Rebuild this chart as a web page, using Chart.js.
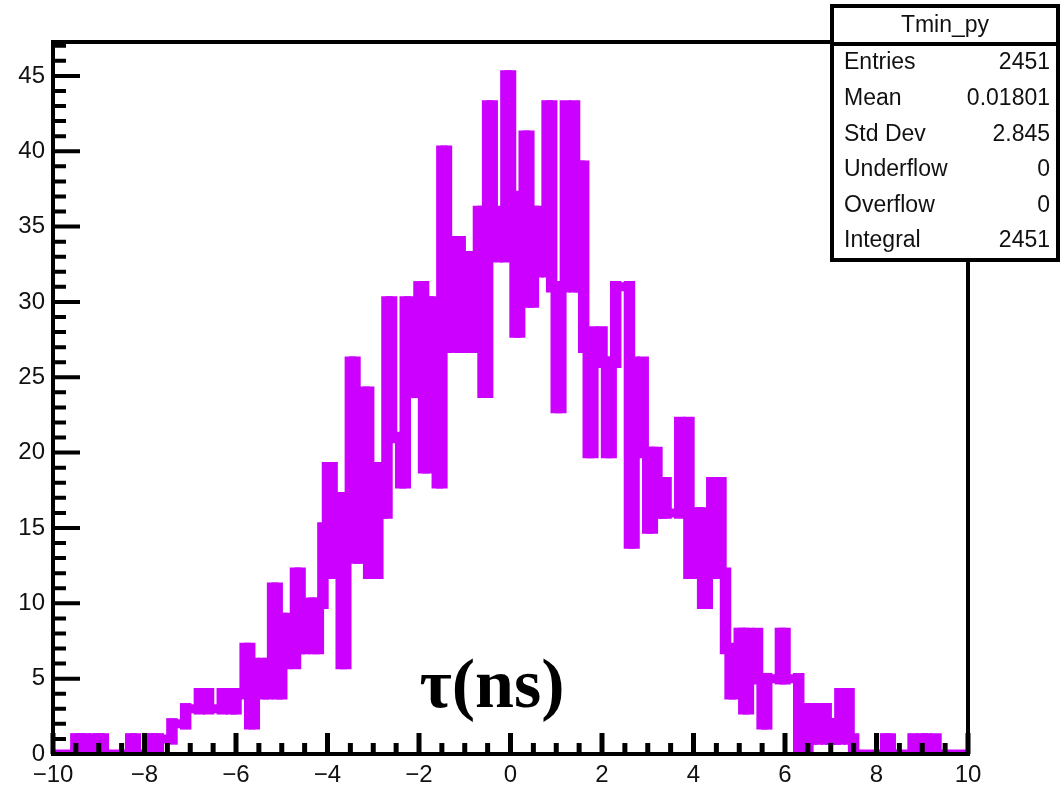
<!DOCTYPE html>
<html>
<head>
<meta charset="utf-8">
<script src="https://cdn.jsdelivr.net/npm/chart.js@4.4.1/dist/chart.umd.min.js"></script>
<style>
html, body { margin: 0; padding: 0; background: #fff; }
#wrap { width: 1062px; height: 787px; }
</style>
</head>
<body>
<div id="wrap"><canvas id="myChart" width="1062" height="787"></canvas></div>
<script>
// histogram Tmin_py : 200 bins from -10 to 10
var binLow = -10;
var binWidth = 0.1;
var counts = [
  0, 0, 0, 0, 0, 1, 0, 1, 1, 0,
  1, 0, 0, 0, 0, 0, 0, 1, 0, 0,
  0, 1, 0, 1, 1, 1, 2, 2, 2, 3,
  3, 3, 4, 4, 3, 3, 3, 4, 4, 3,
  4, 4, 7, 2, 6, 6, 4, 6, 11, 4,
  9, 6, 6, 12, 7, 8, 10, 7, 10, 15,
  19, 12, 17, 6, 17, 26, 13, 16, 24, 12,
  12, 19, 16, 30, 21, 21, 18, 30, 24, 27,
  31, 19, 30, 24, 18, 40, 27, 30, 34, 27,
  27, 33, 27, 36, 24, 43, 36, 33, 33, 45,
  37, 28, 33, 41, 30, 36, 32, 32, 43, 31,
  23, 31, 43, 43, 31, 39, 27, 20, 28, 28,
  26, 20, 26, 31, 31, 31, 14, 26, 26, 20,
  15, 20, 16, 18, 16, 16, 16, 22, 22, 12,
  14, 16, 10, 12, 18, 18, 12, 7, 4, 6,
  8, 3, 8, 8, 5, 2, 5, 5, 5, 8,
  5, 5, 5, 0, 0, 3, 1, 3, 3, 1,
  2, 1, 4, 4, 1, 0, 0, 0, 0, 0,
  0, 0, 1, 0, 0, 0, 0, 0, 1, 1,
  0, 1, 1, 0, 0, 0, 0, 0, 0, 0
];
var xTicks = [-10, -8, -6, -4, -2, 0, 2, 4, 6, 8, 10];
var yTicks = [0, 5, 10, 15, 20, 25, 30, 35, 40, 45];
var yMax = 47.25;
var statsTitle = 'Tmin_py';
var statsNames = ['Entries', 'Mean', 'Std Dev', 'Underflow', 'Overflow', 'Integral'];
var statsValues = ['2451', '0.01801', '2.845', '0', '0', '2451'];
var axisLabel = '\u03c4(ns)';

var lineColor = '#cc00ff';

// outline of the histogram: horizontal at each bin, vertical at each inner edge
var points = [{ x: binLow, y: counts[0] }];
for (var i = 1; i < counts.length; i++) {
  var edge = binLow + i * binWidth;
  points.push({ x: edge, y: counts[i - 1] });
  points.push({ x: edge, y: counts[i] });
}
points.push({ x: binLow + counts.length * binWidth, y: counts[counts.length - 1] });

// ROOT-like frame with inward ticks, drawn over the histogram
var rootFrame = {
  id: 'rootFrame',
  afterDatasetsDraw: function (chart) {
    var ctx = chart.ctx;
    var a = chart.chartArea;
    var xs = chart.scales.x;
    var ys = chart.scales.y;
    ctx.save();
    ctx.strokeStyle = '#000';
    ctx.lineWidth = 4;
    ctx.strokeRect(a.left, a.top, a.right - a.left, a.bottom - a.top);

    ctx.lineWidth = 5;
    ctx.beginPath();
    for (var v = xs.min; v <= xs.max + 1e-9; v += 0.5) {
      var px = xs.getPixelForValue(v);
      var len = (Math.abs(v % 2) < 1e-6) ? 21 : 11;
      ctx.moveTo(px, a.bottom);
      ctx.lineTo(px, a.bottom - len);
    }
    ctx.stroke();
    ctx.lineWidth = 4;
    ctx.beginPath();
    for (var w = 0; w <= Math.floor(ys.max); w += 1) {
      var py = ys.getPixelForValue(w);
      var ylen = (w % 5 === 0) ? 27 : 13;
      ctx.moveTo(a.left, py);
      ctx.lineTo(a.left + ylen, py);
    }
    ctx.stroke();

    // big axis label in the plot
    ctx.fillStyle = '#000';
    ctx.font = 'bold 70px "Liberation Serif", "Times New Roman", serif';
    ctx.textAlign = 'center';
    ctx.textBaseline = 'alphabetic';
    ctx.fillText(axisLabel, 492, 707);
    ctx.restore();
  },
  afterDraw: function (chart) {
    var ctx = chart.ctx;
    var bx = 832, by = 6, bw = 226, bh = 254;
    ctx.save();
    ctx.fillStyle = '#fff';
    ctx.fillRect(bx, by, bw, bh);
    ctx.strokeStyle = '#000';
    ctx.lineWidth = 4;
    ctx.strokeRect(bx, by, bw, bh);
    ctx.beginPath();
    ctx.moveTo(bx, 44);
    ctx.lineTo(bx + bw, 44);
    ctx.stroke();

    ctx.fillStyle = '#111';
    ctx.font = '23px "Liberation Sans", Arial, sans-serif';
    ctx.textBaseline = 'middle';
    ctx.textAlign = 'center';
    ctx.fillText(statsTitle, bx + bw / 2, 26);
    for (var i = 0; i < statsNames.length; i++) {
      var ty = 63 + i * 35.6;
      ctx.textAlign = 'left';
      ctx.fillText(statsNames[i], 844, ty);
      ctx.textAlign = 'right';
      ctx.fillText(statsValues[i], 1050, ty);
    }
    ctx.restore();
  }
};

var ctx = document.getElementById('myChart').getContext('2d');
var myChart = new Chart(ctx, {
  type: 'line',
  data: {
    datasets: [{
      // horizontal parts, thinner
      data: points,
      borderColor: lineColor,
      borderWidth: 9,
      borderCapStyle: 'butt',
      borderJoinStyle: 'miter',
      pointRadius: 0,
      fill: false,
      tension: 0
    }, {
      // vertical parts, a little wider
      data: points,
      borderColor: lineColor,
      borderWidth: 11.5,
      borderCapStyle: 'square',
      pointRadius: 0,
      fill: false,
      tension: 0,
      segment: {
        borderColor: function (c) {
          var vertical = c.p0.parsed.x === c.p1.parsed.x && c.p0.parsed.y !== c.p1.parsed.y;
          return vertical ? lineColor : 'rgba(0,0,0,0)';
        }
      }
    }]
  },
  options: {
    responsive: false,
    animation: false,
    devicePixelRatio: 1,
    layout: { padding: { top: 42, right: 94, left: 0, bottom: 0 } },
    plugins: { legend: { display: false }, tooltip: { enabled: false } },
    scales: {
      x: {
        type: 'linear',
        min: -10,
        max: 10,
        afterBuildTicks: function (s) { s.ticks = xTicks.map(function (v) { return { value: v }; }); },
        afterFit: function (s) { s.height = 33; },
        grid: { display: false, drawTicks: false },
        border: { display: false },
        ticks: {
          autoSkip: false,
          maxRotation: 0,
          padding: 7,
          color: '#111',
          font: { family: '"Liberation Sans", Arial, sans-serif', size: 24 },
          callback: function (v) { return v < 0 ? '\u2212' + Math.abs(v) : String(v); }
        }
      },
      y: {
        type: 'linear',
        min: 0,
        max: yMax,
        afterBuildTicks: function (s) { s.ticks = yTicks.map(function (v) { return { value: v }; }); },
        afterFit: function (s) { s.width = 53; },
        grid: { display: false, drawTicks: false },
        border: { display: false },
        ticks: {
          autoSkip: false,
          padding: 8,
          color: '#111',
          font: { family: '"Liberation Sans", Arial, sans-serif', size: 24 }
        }
      }
    }
  },
  plugins: [rootFrame]
});
</script>
</body>
</html>
